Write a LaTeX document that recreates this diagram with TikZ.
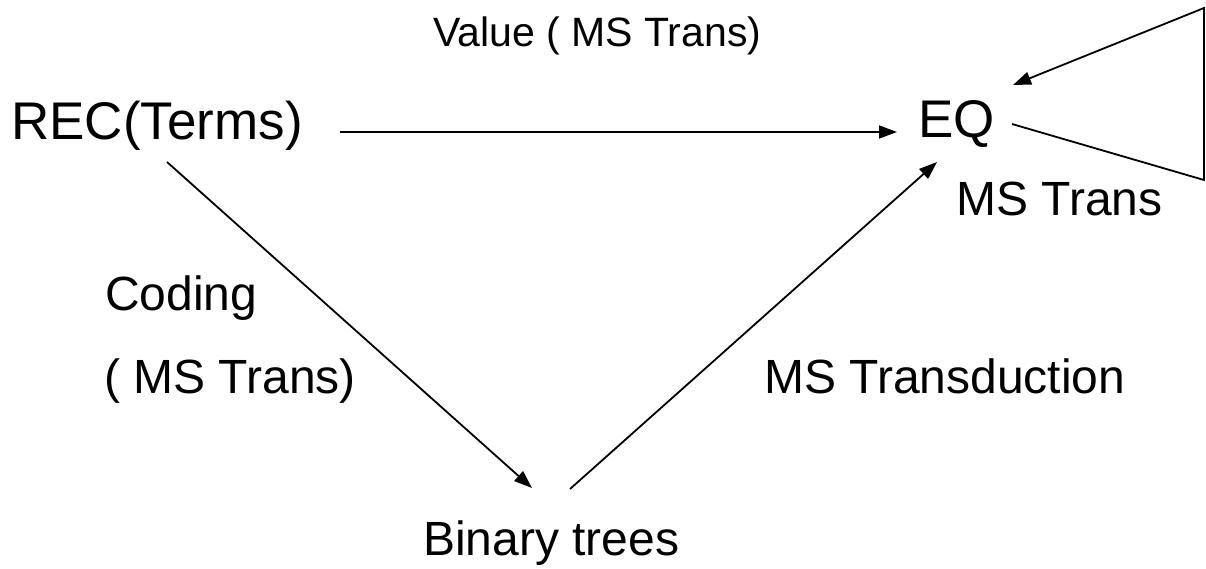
\documentclass[tikz,border=0pt]{standalone}
\usepackage{fontspec}
\setmainfont{Liberation Sans}
\usetikzlibrary{arrows.meta}
\begin{document}
\begin{tikzpicture}[x=1pt,y=-1pt,
  lbl/.style={anchor=base west,inner sep=0pt,font=\fontsize{48}{56}\selectfont},
  big/.style={anchor=base west,inner sep=0pt,font=\fontsize{53}{60}\selectfont},
  small/.style={anchor=base west,inner sep=0pt,font=\fontsize{41}{48}\selectfont},
  conn/.style={line width=1.8pt,line join=miter},
  arr/.style={conn,-{Triangle[length=18pt,width=13pt]}}]
\useasboundingbox (0,0) rectangle (1206,569);
\node[big] (rec) at (11,140) {REC(Terms)};
\node[big] (eq) at (918,138) {EQ};
\node[small] (val) at (433,47) {Value ( MS Trans)};
\node[lbl] (mst) at (956,215) {MS Trans};
\node[lbl] (cod) at (105,310) {Coding};
\node[lbl] (codms) at (104,393) {( MS Trans)};
\node[lbl] (msd) at (764,393) {MS Transduction};
\node[lbl] (bin) at (423,555) {Binary trees};
% connector end points
\coordinate (recR) at (340,132);
\coordinate (eqL) at (897,132);
\coordinate (recB) at (167,162);
\coordinate (binL) at (532,488);
\coordinate (binR) at (570,489);
\coordinate (eqB) at (937,162);
\coordinate (eqR) at (1012,124);
\coordinate (loopB) at (1204,180);
\coordinate (loopT) at (1204,8);
\coordinate (eqT) at (1013,85);
\draw[arr] (recR) -- (eqL);
\draw[arr] (recB) -- (binL);
\draw[arr] (binR) -- (eqB);
\draw[arr] (eqR) -- (loopB) -- (loopT) -- (eqT);
\end{tikzpicture}
\end{document}
